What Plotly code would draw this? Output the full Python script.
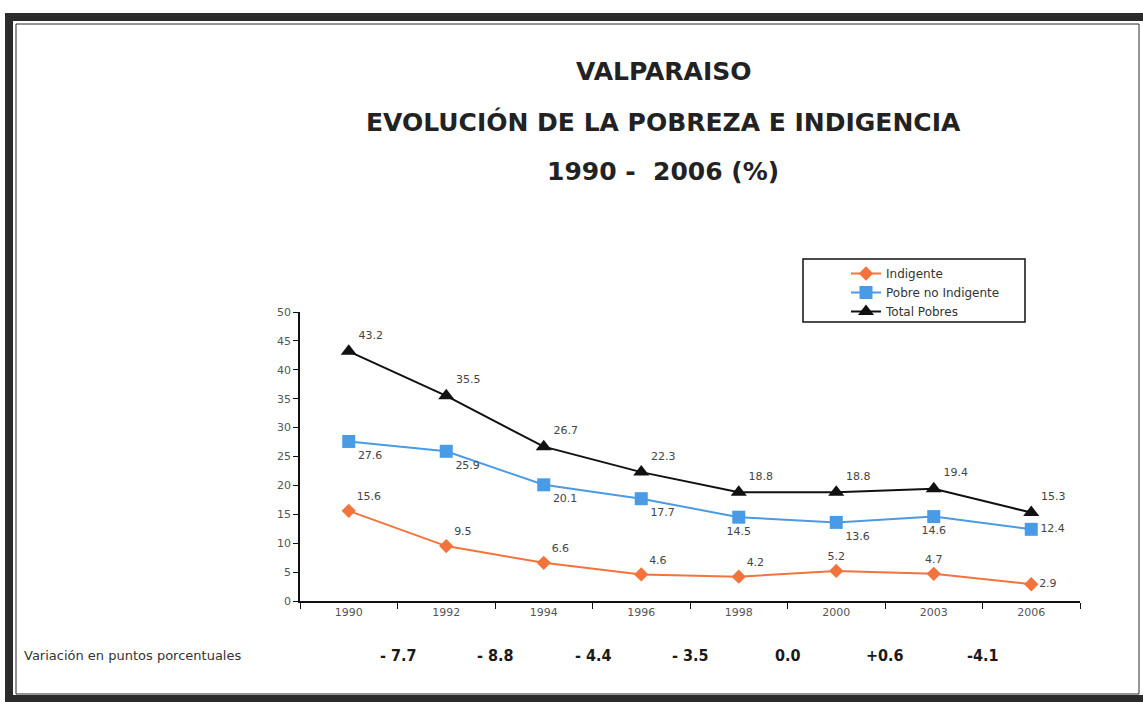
import plotly.graph_objects as go

years = ["1990", "1992", "1994", "1996", "1998", "2000", "2003", "2006"]
indigente = [15.6, 9.5, 6.6, 4.6, 4.2, 5.2, 4.7, 2.9]
pobre_no_indigente = [27.6, 25.9, 20.1, 17.7, 14.5, 13.6, 14.6, 12.4]
total_pobres = [43.2, 35.5, 26.7, 22.3, 18.8, 18.8, 19.4, 15.3]
variacion = ["- 7.7", "- 8.8", "- 4.4", "- 3.5", "0.0", "+0.6", "-4.1"]

# plot area in pixels
L, R, T, B = 300, 63, 312, 101
W, H = 1143, 702
pw, ph = W - L - R, H - T - B


def px(x):
    return (x - L) / pw


def py(y):
    return (H - B - y) / ph


label_font = dict(family="DejaVu Sans", size=11, color="#444444")

fig = go.Figure()
fig.add_trace(go.Scatter(
    x=years, y=indigente, name="Indigente", mode="lines+markers+text",
    line=dict(color="#f3733c", width=2),
    marker=dict(symbol="diamond", size=11, color="#f3733c"),
    text=[str(v) for v in indigente],
    textposition=["top right"] * 5 + ["top center", "top center", "middle right"],
    textfont=label_font,
))
fig.add_trace(go.Scatter(
    x=years, y=pobre_no_indigente, name="Pobre no Indigente", mode="lines+markers+text",
    line=dict(color="#4a9be6", width=2),
    marker=dict(symbol="square", size=13, color="#4a9be6"),
    text=[str(v) for v in pobre_no_indigente],
    textposition=["bottom right"] * 4 + ["bottom center", "bottom right", "bottom center", "middle right"],
    textfont=label_font,
))
fig.add_trace(go.Scatter(
    x=years, y=total_pobres, name="Total Pobres", mode="lines+markers+text",
    line=dict(color="#111111", width=2),
    marker=dict(symbol="triangle-up", size=14, color="#111111"),
    text=[str(v) for v in total_pobres],
    textposition="top right",
    textfont=label_font,
))

annotations = []
titles = [("VALPARAISO", 72), ("EVOLUCIÓN DE LA POBREZA E INDIGENCIA", 122), ("1990 -  2006 (%)", 172)]
for txt, y in titles:
    annotations.append(dict(
        text="<b>%s</b>" % txt, x=px(663), y=py(y), xref="paper", yref="paper",
        showarrow=False, xanchor="center", yanchor="middle",
        font=dict(family="DejaVu Sans", size=25, color="#222222"),
    ))
annotations.append(dict(
    text="Variación en puntos porcentuales", x=px(22), y=py(655), xref="paper", yref="paper",
    showarrow=False, xanchor="left", yanchor="middle",
    font=dict(family="DejaVu Sans", size=13, color="#333333"),
))
for i, v in enumerate(variacion):
    annotations.append(dict(
        text="<b>%s</b>" % v, x=i + 0.5, y=py(655), xref="x", yref="paper",
        showarrow=False, xanchor="center", yanchor="middle",
        font=dict(family="DejaVu Sans Condensed", size=16, color="#1a1a1a"),
    ))

shapes = [
    # outer frame
    dict(type="rect", xref="paper", yref="paper", x0=px(9), x1=px(1150), y0=py(17), y1=py(699),
         line=dict(color="#2b2b2b", width=8)),
    dict(type="rect", xref="paper", yref="paper", x0=px(16), x1=px(1139), y0=py(24), y1=py(694),
         line=dict(color="#2b2b2b", width=1)),
    # legend box
    dict(type="rect", xref="paper", yref="paper", x0=px(803), x1=px(1025), y0=py(259), y1=py(322),
         line=dict(color="#111111", width=1.5)),
]

fig.update_layout(
    width=W, height=H,
    margin=dict(l=L, r=R, t=T, b=B),
    paper_bgcolor="white", plot_bgcolor="white",
    font=dict(family="DejaVu Sans", color="#333333"),
    showlegend=True,
    legend=dict(x=px(846), y=py(259), xanchor="left", yanchor="top",
                borderwidth=0, bgcolor="rgba(0,0,0,0)",
                font=dict(family="DejaVu Sans", size=12, color="#333333"),
                tracegroupgap=0, itemwidth=30),
    xaxis=dict(type="category", showgrid=False, showline=True, linecolor="#111111", linewidth=2,
               ticks="outside", tickson="boundaries", ticklen=6, tickcolor="#111111",
               tickfont=dict(size=11, color="#555555"), range=[-0.5, 7.5]),
    yaxis=dict(range=[0, 50], dtick=5, showgrid=False, zeroline=False, showline=True,
               linecolor="#111111", linewidth=1.5, ticks="outside", ticklen=5, tickcolor="#111111",
               tickfont=dict(size=11, color="#555555")),
    annotations=annotations,
    shapes=shapes,
)

fig.write_html("out.html", config={"displayModeBar": False},
               post_script="document.body.style.margin='0';")
